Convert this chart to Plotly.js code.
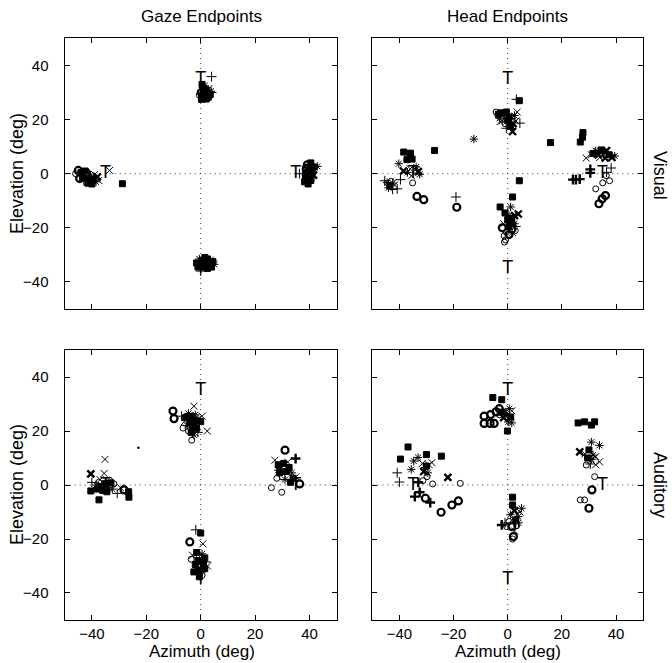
<!DOCTYPE html>
<html>
<head>
<meta charset="utf-8">
<script src="https://cdn.plot.ly/plotly-3.0.1.min.js"></script>
<style>html,body{margin:0;padding:0;background:#fff;}#chart{width:672px;height:663px;}</style>
</head>
<body>
<div id="chart"></div>
<script>
// ---- Data (deg). Symbol codes: o thin circle, O bold circle, x thin x, X bold x,
// + thin cross, P bold cross, * thin asterisk, S bold asterisk, . dot
const tickVals = [-40, -20, 0, 20, 40];
const targetX = [-35, 0, 35, 0];
const targetY = [0, 35, 0, -35];
const colTitles = ["Gaze Endpoints", "Head Endpoints"];
const rowTitles = ["Visual", "Auditory"];

// Gaze endpoints, visual targets
const gazeVisX = [
  -46.0,-45.0,-44.0,-43.5,-42.5,-42.0,-41.0,-40.5,-39.5,-38.5,-38.0,-41.5,-43.0,-40.0,-44.5,-39.0,-37.5,-42.0,
  -33.5,-28.8,
  0.5,1.5,0.8,2.0,3.0,3.8,0.2,1.2,2.5,3.5,0.5,1.5,2.8,-0.5,0.3,2.0,4.0,1.0,
  4.0,
  -1.5,-0.5,0.5,1.5,2.5,3.5,4.5,5.0,4.0,3.0,2.0,1.0,0.0,-1.0,0.0,2.5,1.5,3.5,
  39.2,40.5,41.5,42.9,41.0,39.5,38.5,40.0,41.5,38.5,39.5,40.5,38.2,39.5,41.0,38.8,40.0,
  36.3];
const gazeVisY = [
  0.0,1.2,0.5,-1.0,1.0,-1.5,-2.5,-0.5,-2.0,-3.0,-1.2,-3.5,-2.5,-3.8,-1.8,-0.3,-2.5,0.3,
  1.2,-3.7,
  33.0,32.5,31.5,31.0,31.5,30.5,30.0,30.2,29.8,29.2,28.5,28.2,28.3,29.0,27.5,27.6,30.0,29.2,
  35.9,
  -33.0,-31.5,-32.0,-31.0,-31.5,-32.0,-32.5,-33.5,-34.5,-34.0,-33.5,-34.5,-34.0,-34.5,-36.0,-35.0,-32.5,-33.0,
  3.3,4.0,2.5,2.7,1.0,1.5,0.5,0.0,-0.5,-1.0,-1.8,-2.5,-3.0,-3.8,-1.5,2.0,-0.8,
  0.0];
const gazeVisSym = [
  "o","O","S","S","S","X","S","*","S","*","X","S","+","S","O","x","x","O",
  "x","S",
  "S","*","S","S","x","*","O","S","S","S","S","X","S","o","S","S","+","S",
  "+",
  "S","*","S","S","S","x","S","*","S","S","S","S","O","S","+","S","X","S",
  "O","S","S","*","S","S","S","S","X","S","S","S","S","S","*","O","S",
  "+"];

// Head endpoints, visual targets
const headVisX = [
  -38.4,-35.9,-35.3,-37.2,-36.5,-27.0,-40.2,
  -38.5,-37.0,-34.0,-33.0,-32.5,-36.0,-35.5,-33.8,
  -45.4,-44.5,-43.5,-42.5,-44.0,-42.5,-43.0,-41.8,-39.6,-40.8,
  -35.1,-33.5,-31.0,-19.1,-18.8,-12.5,
  4.3,3.2,-4.3,-3.5,-2.5,-1.5,-0.5,0.5,-3.0,-2.0,-2.8,-1.0,0.0,1.5,2.5,3.0,1.0,2.0,4.5,1.8,-0.5,3.5,
  15.8,4.3,1.8,-2.8,1.1,3.9,
  -1.0,0.5,1.5,2.5,0.0,1.0,2.5,-1.5,3.0,0.5,-2.0,1.5,2.8,-0.5,0.5,-1.3,-0.8,-1.2,1.8,
  27.8,27.6,26.8,
  31.5,32.5,33.5,34.5,35.5,36.5,37.5,38.5,39.5,34.0,36.0,33.0,29.0,30.9,
  24.1,26.6,25.2,30.5,30.5,38.2,36.5,
  36.4,37.6,35.1,32.5,36.1,34.9,33.7];
const headVisY = [
  8.0,7.6,5.4,5.2,6.5,8.6,3.7,
  1.0,0.5,1.5,0.8,-0.2,1.8,-0.8,2.5,
  -2.6,-3.3,-4.5,-3.5,-5.2,-5.8,-2.8,-4.2,-2.2,-5.6,
  -3.4,-8.4,-9.6,-8.6,-12.4,12.8,
  27.0,27.5,22.8,22.0,22.5,21.5,22.8,21.0,20.5,19.5,19.3,18.5,19.8,20.5,21.5,19.5,17.5,18.5,18.7,15.6,16.8,22.8,
  11.5,-2.6,-8.6,-12.3,-12.3,-14.9,
  -14.5,-15.5,-16.5,-15.5,-17.0,-18.0,-18.5,-18.5,-19.5,-19.5,-20.0,-20.5,-21.0,-21.5,-22.5,-23.0,-24.5,-25.3,-21.8,
  15.2,13.5,11.7,
  7.5,8.5,7.0,8.8,7.5,8.5,7.0,6.0,6.5,6.0,5.8,8.2,5.8,7.0,
  -2.2,-2.0,-2.2,0.3,1.6,2.1,0.5,
  -0.7,-2.6,-3.4,-5.6,-8.1,-9.3,-11.1];
const headVisSym = [
  "S","S","S","S","*","S","*",
  "X","*","x","X","*","x","x","*",
  "+","*","S","*","*","+","o","x","+","+",
  "o","O","O","+","O","*",
  "S","+","o","S","S","*","S","S","*","x","x","o","S","*","*","x","S","X","+","X","+","x",
  "S","S","S","S","*","X",
  "S","*","S","X","S","S","*","x","+","S","O","O","o","o","O","o","o","o","x",
  "S","S","S",
  "S","*","X","S","*","X","S","X","*","x","X","x","x","x",
  "P","P","P","P","P","+","+",
  "o","o","o","o","O","O","O"];

// Gaze endpoints, auditory targets
const gazeAudX = [
  -10.2,-9.8,-2.5,2.4,-3.3,-6.5,
  -7.0,-5.5,-4.5,-3.5,-2.5,-4.0,-5.0,-3.0,-2.0,-1.0,0.0,-1.5,-3.5,-2.5,-4.5,-1.0,0.5,-6.0,-2.0,
  -22.9,
  -35.2,-35.5,-40.4,
  -40.0,-38.5,-37.5,-36.5,-35.0,-34.0,-33.0,-36.0,-34.5,-38.0,-32.5,-37.0,-33.5,
  -31.9,-30.7,-28.2,-40.4,-37.4,-26.4,-26.5,-29.5,
  31.0,34.9,26.0,29.8,36.4,27.3,
  28.5,29.5,30.5,31.5,29.0,30.0,28.0,31.0,32.5,33.5,34.0,33.0,35.0,32.0,28.5,
  0.0,-1.8,-4.0,0.8,
  -3.0,-1.5,-0.5,0.5,1.5,-1.0,0.0,1.0,2.0,-2.0,-2.5,-1.0,0.5,1.5,0.5,-0.5,2.5,-3.5];
const gazeAudY = [
  27.4,24.6,29.2,20.0,16.6,21.1,
  25.5,25.0,26.5,25.5,24.0,23.0,22.0,21.5,22.5,24.5,23.5,21.0,19.5,18.5,20.0,19.5,25.5,23.5,26.0,
  13.8,
  9.5,4.3,4.1,
  1.0,0.0,1.0,-0.5,0.5,-1.0,0.8,-2.0,-2.5,-1.5,-1.5,2.0,1.8,
  0.4,-3.1,-1.8,-2.2,-5.5,-4.5,-2.5,-1.0,
  12.9,9.8,-1.0,-2.7,0.4,9.2,
  7.5,6.0,8.0,5.0,4.5,3.0,2.5,2.0,6.5,4.5,2.5,1.0,3.0,8.5,5.5,
  -17.8,-16.6,-21.1,-21.8,
  -26.0,-25.0,-26.5,-25.5,-27.0,-28.0,-29.0,-29.5,-28.5,-29.5,-32.2,-31.5,-32.0,-31.0,-33.5,-34.0,-30.0,-27.5];
const gazeAudSym = [
  "O","O","x","x","o","o",
  "+","S","*","S","S","S","*","S","X","*","S","S","S","*","o","+","x","x","*",
  ".",
  "x","x","X",
  "+","*","o","S","S","*","S","S","S","S","*","x","o",
  "o","+","O","S","S","S","S","x",
  "O","P","o","o","O","x",
  "S","*","S","S","S","o","o","*","S","*","S","S","x","x","*",
  "S","+","O","x",
  "x","S","o","*","S","S","*","S","+","S","S","S","*","S","o","S","x","o"];

// Head endpoints, auditory targets
const headAudX = [
  -36.8,-39.6,-30.0,-24.5,-34.7,-33.1,-35.6,
  -31.5,-30.5,-29.0,-28.0,-31.0,-29.5,-30.0,
  -40.8,-40.0,-22.1,-17.5,-31.3,-29.8,-27.7,
  -34.3,-32.5,-28.6,-30.4,-24.6,-20.6,-18.2,-33.0,
  -5.5,-2.2,-8.7,-8.7,-6.5,-5.0,-6.3,-4.3,-3.1,
  0.6,1.1,0.2,-0.1,-2.0,-1.5,1.5,-0.5,1.5,-3.0,
  1.8,1.8,5.1,3.9,2.5,4.5,1.0,3.0,0.5,2.0,
  -2.2,-0.4,1.5,3.3,2.1,1.8,4.0,-1.0,2.5,
  26.0,28.4,30.9,32.1,
  26.6,30.9,33.9,31.5,28.5,30.0,29.5,31.0,32.5,
  29.0,33.9,30.5,32.5,
  32.1,31.1,26.8,28.4,30.0];
const headAudY = [
  14.1,9.6,11.3,10.7,8.9,10.2,5.8,
  8.0,6.5,7.5,8.3,5.0,4.5,7.0,
  4.5,1.1,2.8,0.6,1.6,3.1,0.4,
  -4.3,-2.7,-6.5,-4.9,-10.1,-7.4,-5.9,1.0,
  32.4,31.6,25.5,22.8,22.8,22.8,26.1,27.1,28.3,
  28.3,25.2,23.4,20.0,27.0,25.0,27.5,26.5,23.0,26.0,
  -4.5,-7.4,-8.6,-11.7,-9.5,-10.0,-11.0,-13.0,-13.5,-12.5,
  -14.8,-15.4,-15.4,-15.1,-19.1,-20.0,-14.0,-14.0,-17.0,
  23.0,23.4,22.2,23.4,
  12.3,15.9,14.7,11.1,11.5,13.0,10.0,9.5,10.5,
  7.4,8.6,7.8,7.5,
  3.1,-1.8,-5.5,-5.5,-8.6];
const headAudSym = [
  "S","S","S","S","*","*","*",
  "x","*","x","x","X","*","S",
  "+","+","X","o","o","o","o",
  "P","P","P","O","O","O","O","P",
  "S","S","O","O","O","O","O","O","O",
  "*","S","*","S","S","X","x","*","*","o",
  "S","S","*","*","X","x","*","S","o","x",
  "P","o","O","o","O","o","*","+","x",
  "S","S","S","S",
  "X","*","*","*","x","S","S","*","x",
  "o","x","+","x",
  "o","O","o","o","O"];

// ---- Styles
const symStyle = {
  "o": {symbol: "circle-open", size: 6, width: 1},
  "O": {symbol: "circle-open", size: 7, width: 2.2},
  "x": {symbol: "x-thin-open", size: 7, width: 1},
  "X": {symbol: "x-thin-open", size: 7, width: 2.4},
  "+": {symbol: "cross-thin-open", size: 7, width: 1},
  "P": {symbol: "cross-thin-open", size: 7, width: 2.4},
  "*": {symbol: "asterisk-open", size: 7, width: 1},
  "S": {symbol: "square", size: 6, width: 1},
  ".": {symbol: "circle", size: 2.5, width: 0}
};
const FONT = "Liberation Sans, Arial, Helvetica, sans-serif";

const panels = [
  {xs: gazeVisX, ys: gazeVisY, ms: gazeVisSym, xa: "x", ya: "y"},
  {xs: headVisX, ys: headVisY, ms: headVisSym, xa: "x2", ya: "y2"},
  {xs: gazeAudX, ys: gazeAudY, ms: gazeAudSym, xa: "x3", ya: "y3"},
  {xs: headAudX, ys: headAudY, ms: headAudSym, xa: "x4", ya: "y4"}
];

const traces = [];
panels.forEach(p => {
  traces.push({
    type: "scatter", mode: "text", x: targetX, y: targetY,
    text: targetX.map(() => "T"), textposition: "middle center",
    textfont: {family: FONT, size: 18, color: "#000"},
    xaxis: p.xa, yaxis: p.ya, showlegend: false, hoverinfo: "skip"
  });
  Object.keys(symStyle).forEach(code => {
    const xs = [], ys = [];
    p.ms.forEach((m, i) => { if (m === code) { xs.push(p.xs[i]); ys.push(p.ys[i]); } });
    if (!xs.length) return;
    const st = symStyle[code];
    traces.push({
      type: "scatter", mode: "markers", x: xs, y: ys,
      xaxis: p.xa, yaxis: p.ya, showlegend: false,
      marker: {symbol: st.symbol, size: st.size, color: "#000",
               line: {color: "#000", width: st.width}}
    });
  });
});

function ax(domain, anchor, showLabels, isY) {
  return {
    domain: domain, anchor: anchor, range: [-50, 50], tickvals: tickVals,
    ticks: "inside", ticklen: 5, tickwidth: 1, tickcolor: "#000",
    showline: true, linecolor: "#000", linewidth: 1.2, mirror: "ticks",
    showgrid: false, zeroline: false, showticklabels: showLabels,
    ticklabelstandoff: isY ? 12 : 0,
    tickfont: {family: FONT, size: 15, color: "#000"}, fixedrange: true
  };
}
const xdL = [0.0963, 0.501], xdR = [0.554, 0.957];
const ydT = [0.534, 0.942], ydB = [0.0649, 0.472];

const shapes = [];
[["x","y"],["x2","y2"],["x3","y3"],["x4","y4"]].forEach(([xa, ya]) => {
  shapes.push({type: "line", xref: xa, yref: ya + " domain", x0: 0, x1: 0, y0: 0, y1: 1,
               line: {color: "#333", width: 1, dash: "1px,4px"}, layer: "below"});
  shapes.push({type: "line", xref: xa + " domain", yref: ya, x0: 0, x1: 1, y0: 0, y1: 0,
               line: {color: "#333", width: 1, dash: "1px,4px"}, layer: "below"});
});

const titleFont = {family: FONT, size: 17, color: "#000"};
const axFont = {family: FONT, size: 18, color: "#000"};
const azFont = {family: FONT, size: 17, color: "#000"};
const annotations = [];
function ann(text, px, py, angle, font, yanchor) {
  annotations.push({text: text, x: px / 672, y: 1 - py / 663, xref: "paper", yref: "paper",
    textangle: angle, showarrow: false, font: font, xanchor: "center", yanchor: yanchor || "middle"});
}
ann(colTitles[0], 201.7, 16, 0, titleFont);
ann(colTitles[1], 507.7, 16, 0, titleFont);
ann(rowTitles[0], 660, 175, 90, axFont);
ann(rowTitles[1], 660, 485, 90, axFont);
ann("Elevation (deg)", 17, 174, -90, axFont);
ann("Elevation (deg)", 17, 485, -90, axFont);
ann("Azimuth (deg)", 201.7, 663, 0, azFont, "bottom");
ann("Azimuth (deg)", 507.7, 663, 0, azFont, "bottom");

const layout = {
  width: 672, height: 663, margin: {l: 0, r: 0, t: 0, b: 0},
  paper_bgcolor: "#fff", plot_bgcolor: "#fff", showlegend: false,
  xaxis: ax(xdL, "y", false, false), yaxis: ax(ydT, "x", true, true),
  xaxis2: ax(xdR, "y2", false, false), yaxis2: ax(ydT, "x2", false, true),
  xaxis3: ax(xdL, "y3", true, false), yaxis3: ax(ydB, "x3", true, true),
  xaxis4: ax(xdR, "y4", true, false), yaxis4: ax(ydB, "x4", false, true),
  shapes: shapes, annotations: annotations
};

Plotly.newPlot("chart", traces, layout, {displayModeBar: false, staticPlot: true});
</script>
</body>
</html>
